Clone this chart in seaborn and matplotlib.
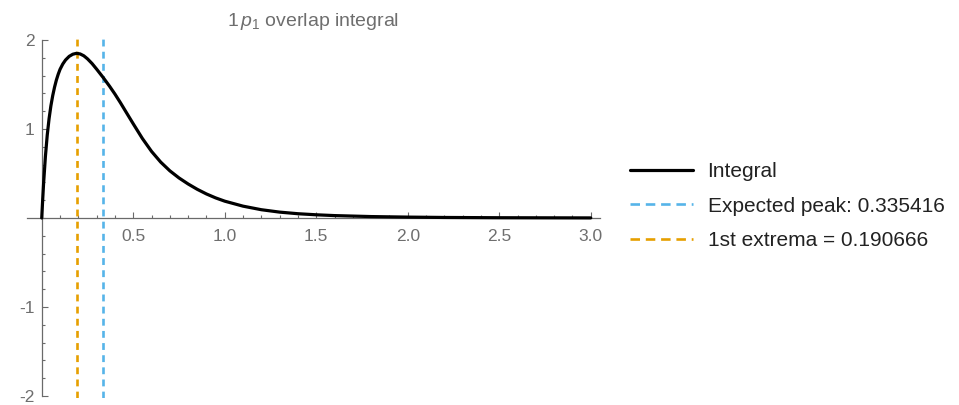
import matplotlib
matplotlib.use("Agg")
import matplotlib.pyplot as plt
import seaborn as sns
import pandas as pd
from matplotlib.ticker import FixedLocator, MultipleLocator
from matplotlib.lines import Line2D

# Radial grid and the overlap integral evaluated on it
r = [0.0, 0.005, 0.01, 0.02, 0.03, 0.04, 0.05, 0.06, 0.07, 0.08, 0.09, 0.10,
     0.115, 0.13, 0.15, 0.17, 0.19, 0.21, 0.23, 0.25, 0.275, 0.30, 0.335, 0.37,
     0.40, 0.43, 0.46, 0.50, 0.55, 0.60, 0.65, 0.70, 0.75, 0.80, 0.85, 0.90,
     0.95, 1.00, 1.10, 1.20, 1.30, 1.40, 1.50, 1.60, 1.80, 2.00, 2.20, 2.50, 3.00]
integral = [0.0, 0.20, 0.385, 0.69, 0.93, 1.115, 1.26, 1.375, 1.47, 1.55, 1.615, 1.67,
            1.73, 1.775, 1.816, 1.840, 1.85, 1.843, 1.822, 1.788, 1.735, 1.672, 1.58, 1.482,
            1.392, 1.295, 1.193, 1.058, 0.893, 0.748, 0.628, 0.530, 0.450, 0.382, 0.322, 0.270,
            0.226, 0.189, 0.133, 0.093, 0.066, 0.048, 0.036, 0.027, 0.016, 0.010, 0.006, 0.003, 0.001]

expected_peak = 0.335416
first_extremum = 0.190666

x_ticks = [0.5, 1.0, 1.5, 2.0, 2.5, 3.0]
x_tick_labels = ["0.5", "1.0", "1.5", "2.0", "2.5", "3.0"]
y_ticks = [-2, -1, 1, 2]
y_tick_labels = ["-2", "-1", "1", "2"]

title = r"$1\,p_1$ overlap integral"
label_curve = "Integral"
label_peak = f"Expected peak: {expected_peak}"
label_ext = f"1st extrema = {first_extremum}"

sns.set_style("white")
plt.rcParams["font.family"] = ["Liberation Sans", "DejaVu Sans"]
plt.rcParams["mathtext.fontset"] = "custom"
plt.rcParams["mathtext.rm"] = "Liberation Sans"
plt.rcParams["mathtext.it"] = "Liberation Sans:italic"
plt.rcParams["axes.unicode_minus"] = False

BLUE = "#56B4E9"
ORANGE = "#E69F00"
AXIS_GREY = "#6a6a6a"
LABEL_GREY = "#6e6e6e"

fig = plt.figure(figsize=(9.59, 4.05), dpi=100)
# x: -0.08..3.05, y: -2.02..2.03 with the origin near pixel (41.7, 218)
ax = fig.add_axes([27.1 / 959, (405 - 397.8) / 405, (599.9 - 27.1) / 959, (397.8 - 37.3) / 405])
ax.set_xlim(-0.08, 3.05)
ax.set_ylim(-2.02, 2.03)

df = pd.DataFrame({"r": r, "integral": integral})
sns.lineplot(data=df, x="r", y="integral", color="black", lw=2.3, ax=ax,
             zorder=4, legend=False)
dash = (0, (2.6, 2.0))
ax.axvline(expected_peak, color=BLUE, lw=1.9, ls=dash, zorder=3)
ax.axvline(first_extremum, color=ORANGE, lw=1.9, ls=dash, zorder=3)

# Axes through the origin
for side in ("top", "right"):
    ax.spines[side].set_visible(False)
ax.spines["left"].set_position(("data", 0))
ax.spines["bottom"].set_position(("data", 0))
ax.spines["left"].set_bounds(-2, 2)
for side in ("left", "bottom"):
    ax.spines[side].set_color(AXIS_GREY)
    ax.spines[side].set_linewidth(0.9)

ax.xaxis.set_major_locator(FixedLocator(x_ticks))
ax.set_xticklabels(x_tick_labels)
ax.xaxis.set_minor_locator(MultipleLocator(0.1))
ax.yaxis.set_major_locator(FixedLocator(y_ticks))
ax.set_yticklabels(y_tick_labels)
ax.yaxis.set_minor_locator(MultipleLocator(0.2))
ax.tick_params(which="both", direction="in", color=AXIS_GREY, width=0.8,
               labelcolor=LABEL_GREY, labelsize=12.5)
ax.tick_params(which="major", length=4.5)
ax.tick_params(which="minor", length=2.5)
ax.tick_params(axis="x", which="both", bottom=True, pad=8)
ax.tick_params(axis="y", which="both", left=True, pad=5)
ax.set_xlabel("")
ax.set_ylabel("")

ax.set_title(title, color=LABEL_GREY, fontsize=14, pad=8)

legend_dash = (0, (3.6, 2.2))
handles = [
    Line2D([], [], color="black", lw=2.3),
    Line2D([], [], color=BLUE, lw=1.9, ls=legend_dash),
    Line2D([], [], color=ORANGE, lw=1.9, ls=legend_dash),
]
fig.legend(handles, [label_curve, label_peak, label_ext],
           loc="center left", bbox_to_anchor=(630 / 959, 1 - 206 / 405),
           frameon=False, fontsize=15, handlelength=3.0, handletextpad=0.72,
           labelspacing=0.75, borderpad=0, borderaxespad=0, labelcolor="#222222")

fig.savefig("out.png", dpi=100)
